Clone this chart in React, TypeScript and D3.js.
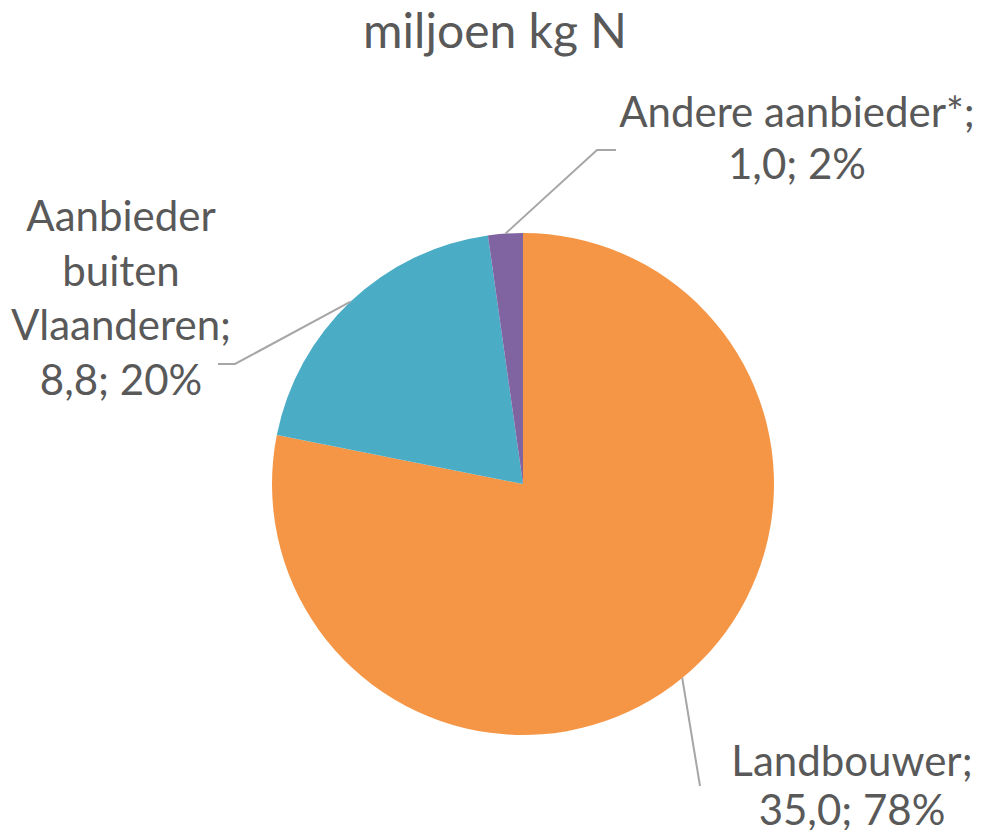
import React from 'react';
import * as d3 from 'd3';

const categories = ['Landbouwer', 'Aanbieder buiten Vlaanderen', 'Andere aanbieder*'];
const values = [35.0, 8.8, 1.0];
const percents = ['78%', '20%', '2%'];
const colors = ['#F59646', '#4BACC6', '#8064A2'];

// label layout: text lines (last line is value; percent), centre x, first baseline, leader elbow/end
const labelLayout = [
  { lines: ['Landbouwer;', ''], x: 852, y: 776, step: 49, elbow: null, end: [700, 786] },
  { lines: ['Aanbieder', 'buiten', 'Vlaanderen;', ''], x: 121, y: 231, step: 54.5, elbow: [235, 364], end: [218, 364] },
  { lines: ['Andere aanbieder*;', ''], x: 797, y: 127, step: 52, elbow: [597, 150], end: [616, 150] },
];

export default function App() {
  const width = 996;
  const height = 830;
  const cx = 523;
  const cy = 484;
  const radius = 251;
  const font = 'Lato, "Open Sans", sans-serif';

  const pie = d3.pie<number>().sort(null).value(d => d);
  const arcs = pie(values);
  const arcGen = d3.arc<d3.PieArcDatum<number>>().innerRadius(0).outerRadius(radius);

  const fmt = (v: number) => v.toFixed(1).replace('.', ',');

  return (
    <svg width={width} height={height} style={{ position: 'absolute', left: 0, top: 0 }}>
      <rect width={width} height={height} fill="#fff" />
      <text x={495} y={48} textAnchor="middle" fontFamily={font} fontSize={48} fill="#595959">
        miljoen kg N
      </text>
      <g transform={`translate(${cx},${cy})`}>
        {arcs.map((a, i) => (
          <path key={categories[i]} d={arcGen(a) || ''} fill={colors[i]} />
        ))}
      </g>
      {arcs.map((a, i) => {
        const mid = (a.startAngle + a.endAngle) / 2;
        const sx = cx + radius * Math.sin(mid);
        const sy = cy - radius * Math.cos(mid);
        const L = labelLayout[i];
        const pts: number[][] = [[sx, sy]];
        if (L.elbow) pts.push(L.elbow);
        pts.push(L.end);
        const line = d3.line()(pts as [number, number][]) || '';
        const lines = L.lines;
        return (
          <g key={'l' + i}>
            <path d={line} fill="none" stroke="#A6A6A6" strokeWidth={2} />
            <text textAnchor="middle" fontFamily={font} fontSize={42} fill="#595959">
              {lines.map((t, j) => {
                const txt = j === lines.length - 1 ? `${fmt(values[i])}; ${percents[i]}` : t;
                return (
                  <tspan key={j} x={L.x} y={L.y + j * L.step}>
                    {txt}
                  </tspan>
                );
              })}
            </text>
          </g>
        );
      })}
    </svg>
  );
}
